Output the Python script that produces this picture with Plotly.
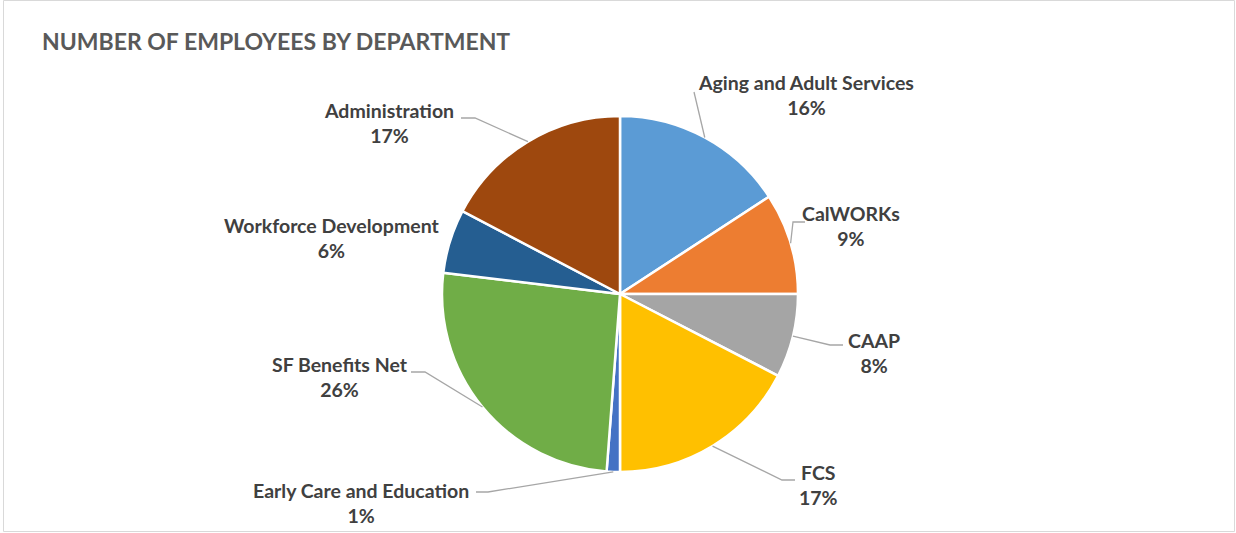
import math
import plotly.graph_objects as go

# ---- data ----
departments = ["Aging and Adult Services", "CalWORKs", "CAAP", "FCS",
               "Early Care and Education", "SF Benefits Net",
               "Workforce Development", "Administration"]
shares = [15.8, 9.2, 7.6, 17.4, 1.2, 25.7, 5.8, 17.3]
colors = ["#5B9BD5", "#ED7D31", "#A5A5A5", "#FFC000",
          "#4472C4", "#70AD47", "#255E91", "#9E480E"]
title_text = "NUMBER OF EMPLOYEES BY DEPARTMENT"

# ---- layout constants (pixels) ----
W, H = 1236, 533
CX, CY, R = 620, 294, 178

# label text centres and leader-line elbow/end points (layout only)
label_pos = [(806, 95), (851, 226), (874, 353), (818, 485),
             (361, 503), (340, 377), (332, 238), (389, 123)]
leader = [[(694, 92)],
          [(793, 222), (805, 222)],
          [(830, 345), (843, 345)],
          [(782, 480), (795, 480)],
          [(488, 492), (476, 492)],
          [(425, 372), (411, 372)],
          None,
          [(475, 118), (461, 118)]]

FONT = "Lato, 'Open Sans', sans-serif"


def X(px):
    return px / W


def Y(py):
    return 1 - py / H


fig = go.Figure()
fig.add_trace(go.Pie(
    labels=departments, values=shares, sort=False, direction="clockwise",
    rotation=0, marker=dict(colors=colors, line=dict(color="white", width=2.5)),
    textinfo="none", hoverinfo="label+percent", showlegend=False,
    domain=dict(x=[X(CX - R), X(CX + R)], y=[Y(CY + R), Y(CY - R)]),
))

total = sum(shares)
cum = 0.0
annotations = []
shapes = []
for i, (name, v) in enumerate(zip(departments, shares)):
    mid = (cum + v / 2) / total * 2 * math.pi
    cum += v
    ax = CX + R * math.sin(mid)
    ay = CY - R * math.cos(mid)
    pct = round(v / total * 100)
    tx, ty = label_pos[i]
    annotations.append(dict(
        x=X(tx), y=Y(ty), xref="paper", yref="paper", showarrow=False,
        text=f"<b>{name}</b><br><b>{pct}%</b>", align="center",
        xanchor="center", yanchor="middle",
        font=dict(family=FONT, size=19.5, color="#404040"),
    ))
    if leader[i]:
        pts = [(ax, ay)] + leader[i]
        path = "M " + " L ".join(f"{X(p[0])} {Y(p[1])}" for p in pts)
        shapes.append(dict(type="path", path=path, xref="paper", yref="paper",
                           line=dict(color="#A6A6A6", width=1.3)))

# chart border
shapes.append(dict(type="rect", xref="paper", yref="paper",
                   x0=X(3.5), x1=X(1234.5), y0=Y(531.5), y1=Y(0.5),
                   line=dict(color="#D9D9D9", width=1)))

annotations.append(dict(
    x=X(40), y=Y(41), xref="paper", yref="paper", showarrow=False,
    text=f"<b>{title_text}</b>", xanchor="left", yanchor="middle",
    font=dict(family=FONT, size=23, color="#595959"),
))

fig.update_layout(
    width=W, height=H, margin=dict(l=0, r=0, t=0, b=0),
    paper_bgcolor="white", plot_bgcolor="white",
    annotations=annotations, shapes=shapes,
)

fig.write_html("out.html", config={"displayModeBar": False},
               post_script="document.body.style.margin='0';document.body.style.overflow='hidden';")
